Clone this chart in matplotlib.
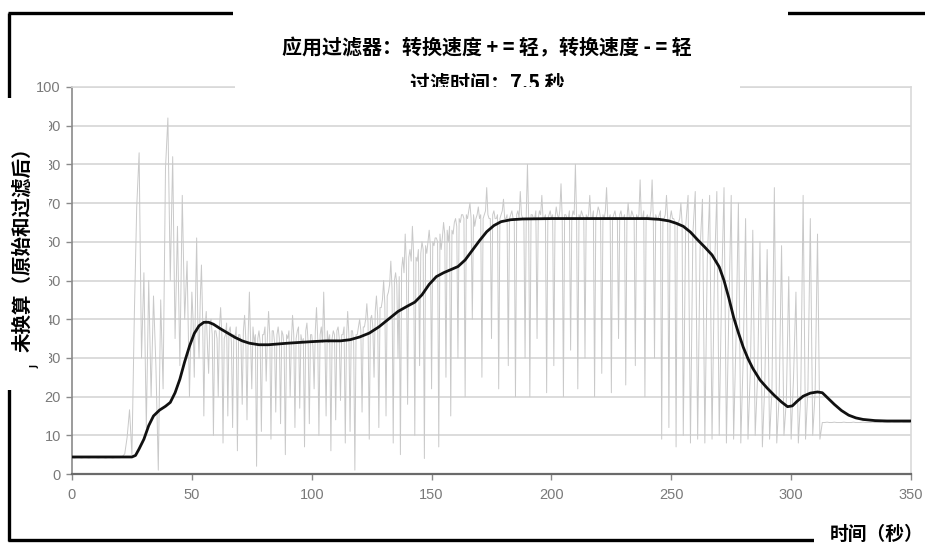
import numpy as np
import matplotlib
matplotlib.use("Agg")
import matplotlib.pyplot as plt
from matplotlib.patches import Rectangle
from matplotlib.lines import Line2D
from matplotlib.transforms import Bbox, TransformedBbox

W, H = 925, 547
CJK = ["Noto Sans CJK SC", "DejaVu Sans"]

title_text = "应用过滤器：转换速度 + = 轻，转换速度 - = 轻"
subtitle_text = "过滤时间：7.5 秒"
ylabel_text = "未换算（原始和过滤后）"
xlabel_text = "时间（秒）"

x_ticks = [0, 50, 100, 150, 200, 250, 300, 350]
y_ticks = [0, 10, 20, 30, 40, 50, 60, 70, 80, 90, 100]

# raw signal, 0-49 s, one sample per second
raw_000 = [4.2, 4.1, 4.2, 4.2, 4.1, 4.2, 4.2, 4.1, 4.2, 4.2]
raw_010 = [4.2, 4.1, 4.2, 4.2, 4.1, 4.2, 4.2, 4.1, 4.2, 4.2]
raw_020 = [4.2, 4.5, 5.2, 9.5, 16.6, 5.0, 41, 69, 83, 30]
raw_030 = [52, 12, 50, 20, 46, 28, 1, 45, 22, 79]
raw_040 = [92, 50, 82, 35, 64, 28, 72, 40, 55, 20]

# raw signal, 50-254.5 s, two samples per second
raw_050 = [47, 40, 25, 44, 61, 38, 30, 45, 54, 40, 15, 38, 42, 33, 26, 39, 40, 36, 10, 37]
raw_060 = [37, 35, 20, 38, 43, 36, 8, 35, 36, 39, 15, 37, 38, 34, 12, 36, 35, 38, 6, 36]
raw_070 = [36, 34, 18, 37, 41, 35, 14, 36, 47, 35, 22, 38, 34, 36, 2, 35, 37, 34, 11, 36]
raw_080 = [36, 38, 24, 35, 42, 36, 9, 37, 37, 34, 16, 36, 38, 35, 13, 37, 36, 33, 5, 36]
raw_090 = [35, 37, 20, 34, 41, 36, 12, 35, 37, 38, 17, 36, 34, 35, 7, 37, 39, 34, 13, 36]
raw_100 = [36, 33, 22, 37, 43, 35, 10, 36, 38, 34, 47, 35, 15, 37, 34, 36, 6, 35, 37, 36]
raw_110 = [14, 37, 38, 35, 19, 36, 36, 38, 8, 35, 42, 36, 11, 37, 37, 34, 1, 36, 36, 38]
raw_120 = [40, 37, 16, 38, 38, 40, 44, 39, 9, 40, 41, 38, 25, 42, 46, 41, 12, 43, 43, 45]
raw_130 = [50, 44, 15, 46, 47, 49, 55, 48, 8, 50, 52, 49, 30, 51, 5, 53, 56, 52, 62, 54]
raw_140 = [18, 56, 58, 55, 64, 57, 10, 56, 55, 58, 28, 57, 60, 58, 4, 59, 57, 60, 63, 59]
raw_150 = [22, 60, 59, 61, 61, 60, 7, 62, 58, 61, 65, 62, 25, 63, 60, 64, 15, 63, 62, 65]
raw_160 = [66, 64, 30, 66, 65, 67, 67, 66, 20, 67, 66, 68, 70, 66, 40, 67, 64, 66, 67, 69]
raw_170 = [66, 67, 25, 66, 67, 68, 74, 67, 66, 66, 35, 67, 68, 66, 66, 67, 22, 66, 67, 68]
raw_180 = [71, 66, 66, 67, 28, 66, 67, 68, 66, 66, 20, 67, 68, 66, 73, 67, 66, 66, 30, 67]
raw_190 = [80, 66, 20, 67, 67, 66, 66, 68, 35, 66, 68, 67, 72, 66, 66, 67, 21, 66, 67, 68]
raw_200 = [66, 67, 28, 66, 69, 67, 66, 68, 75, 66, 20, 67, 67, 66, 66, 68, 32, 66, 68, 67]
raw_210 = [80, 66, 22, 67, 66, 68, 67, 66, 30, 67, 66, 67, 72, 66, 66, 68, 20, 66, 67, 69]
raw_220 = [68, 66, 26, 67, 66, 68, 74, 66, 66, 67, 21, 66, 67, 68, 66, 66, 35, 67, 68, 66]
raw_230 = [66, 67, 23, 66, 70, 66, 66, 68, 67, 66, 28, 67, 66, 67, 76, 66, 66, 68, 20, 66]
raw_240 = [67, 66, 66, 68, 76, 66, 30, 67, 66, 66, 67, 68, 9, 66, 66, 67, 72, 66, 12, 66]
raw_250 = [68, 66, 66, 65, 7, 65, 65, 66, 70, 65]

# raw signal, 255-350 s, one sample per second
raw_255 = [10, 64, 72, 8, 62]
raw_260 = [73, 9, 58, 71, 8, 55, 72, 9, 52, 73]
raw_270 = [10, 48, 74, 8, 42, 72, 9, 35, 70, 8]
raw_280 = [30, 66, 9, 27, 63, 10, 25, 60, 7, 23]
raw_290 = [58, 9, 22, 74, 8, 20, 59, 10, 19, 51]
raw_300 = [9, 25, 47, 8, 20, 72, 9, 22, 66, 10]
raw_310 = [21, 62, 9, 13.3, 13.3, 13.4, 13.3, 13.3, 13.4, 13.3]
raw_320 = [13.3, 13.3, 13.4, 13.3, 13.3, 13.3, 13.4, 13.3, 13.3, 13.3]
raw_330 = [13.4, 13.3, 13.3, 13.3, 13.4, 13.3, 13.3, 13.3, 13.4, 13.3]
raw_340 = [13.3, 13.3, 13.4, 13.3, 13.3, 13.3, 13.4, 13.3, 13.3, 13.3, 13.3]

raw_part_a = raw_000 + raw_010 + raw_020 + raw_030 + raw_040
raw_part_b = (raw_050 + raw_060 + raw_070 + raw_080 + raw_090 + raw_100
              + raw_110 + raw_120 + raw_130 + raw_140 + raw_150 + raw_160
              + raw_170 + raw_180 + raw_190 + raw_200 + raw_210 + raw_220
              + raw_230 + raw_240 + raw_250)
raw_part_c = (raw_255 + raw_260 + raw_270 + raw_280 + raw_290 + raw_300
              + raw_310 + raw_320 + raw_330 + raw_340)

raw_t = np.concatenate([
    0 + 1.0 * np.arange(len(raw_part_a)),
    50 + 0.5 * np.arange(len(raw_part_b)),
    255 + 1.0 * np.arange(len(raw_part_c)),
])
raw_v = raw_part_a + raw_part_b + raw_part_c

# filtered signal
filt_t = [0, 20, 25, 26.5, 28, 30, 32, 34, 36.5, 39, 41, 43, 45, 47, 49, 51,
          53, 55, 57, 59, 62, 65, 68, 71, 74, 78, 82, 86, 90, 95, 100, 106,
          112, 116, 120, 124, 128, 132, 136, 140, 143, 146, 149, 152, 155,
          158, 161, 164, 167, 170, 173, 176, 179, 183, 188, 200, 220, 240,
          245, 249, 252, 255, 258, 261, 264, 267, 270, 272, 274, 276, 278,
          280, 282, 284, 287, 290, 293, 296, 298.5, 300.5, 302.5, 305, 308,
          311, 313, 315, 318, 321, 324, 327, 330, 335, 340, 350]
filt_v = [4.4, 4.4, 4.4, 4.8, 6.5, 9.0, 12.5, 15.0, 16.5, 17.5, 18.5, 21.0,
          24.5, 29.0, 33.0, 36.3, 38.3, 39.2, 39.2, 38.7, 37.5, 36.4, 35.3,
          34.4, 33.8, 33.4, 33.4, 33.6, 33.8, 34.0, 34.2, 34.4, 34.4, 34.7,
          35.4, 36.4, 38.0, 40.0, 42.0, 43.4, 44.4, 46.3, 49.0, 51.0, 52.0,
          52.8, 53.6, 55.3, 57.8, 60.3, 62.6, 64.2, 65.2, 65.7, 65.9, 66.0,
          66.0, 66.0, 65.8, 65.4, 64.8, 64.0, 62.5, 60.5, 58.6, 56.6, 53.5,
          50.0, 45.5, 40.5, 36.5, 32.8, 29.8, 27.3, 24.3, 22.2, 20.3, 18.6,
          17.4, 17.6, 18.8, 20.1, 20.9, 21.2, 21.0, 19.8, 18.0, 16.4, 15.2,
          14.5, 14.1, 13.8, 13.7, 13.7]


def fx(x):
    return x / W


def fy(y):
    return 1 - y / H


fig = plt.figure(figsize=(W / 100, H / 100), dpi=100)
fig.patch.set_facecolor("white")

ax = fig.add_axes([fx(72), fy(474), (911 - 72) / W, (474 - 87) / H])
ax.plot(raw_t, raw_v, color="#c9c9c9", lw=0.7, zorder=2)
ax.plot(filt_t, filt_v, color="#111111", lw=2.0, zorder=3,
        solid_joinstyle="round", solid_capstyle="round")

ax.set_xlim(0, 350)
ax.set_ylim(0, 100)
ax.set_xticks(x_ticks)
ax.set_yticks(y_ticks)
ax.yaxis.grid(True, color="#d9d9d9", lw=1.3)
ax.set_axisbelow(True)
for side in ("top", "right"):
    ax.spines[side].set_color("#d9d9d9")
    ax.spines[side].set_linewidth(1.2)
ax.spines["left"].set_color("#8a8a8a")
ax.spines["left"].set_linewidth(1.2)
ax.spines["bottom"].set_color("#6a6a6a")
ax.spines["bottom"].set_linewidth(1.6)
ax.tick_params(axis="both", direction="out", length=4, width=1,
               color="#8a8a8a", labelcolor="#7a7a7a", labelsize=10.5)
ax.tick_params(axis="y", pad=4)
ax.tick_params(axis="x", pad=6)
for lab in ax.get_xticklabels() + ax.get_yticklabels():
    lab.set_family("Liberation Sans")

# black frame
frame_kw = dict(color="black", lw=2.4, transform=fig.transFigure, zorder=5,
                solid_capstyle="butt")
fig.add_artist(Line2D([fx(9), fx(9)], [fy(12.5), fy(540.5)], **frame_kw))
fig.add_artist(Line2D([fx(8), fx(925)], [fy(13), fy(13)], **frame_kw))
fig.add_artist(Line2D([fx(8), fx(814)], [fy(540), fy(540)], **frame_kw))


def white_box(x0, y0, x1, y1, z=6):
    fig.add_artist(Rectangle((fx(x0), fy(y1)), (x1 - x0) / W, (y1 - y0) / H,
                             transform=fig.transFigure, facecolor="white",
                             edgecolor="none", zorder=z))


white_box(233, 0, 788, 62)
white_box(235, 55, 740, 92)
white_box(0, 98, 49, 390)
white_box(814, 520, 925, 547)

fig.text(fx(487), fy(48), title_text, ha="center", va="center",
         fontsize=14.4, weight="bold", family=CJK, zorder=7)
sub = fig.text(fx(487), fy(83), subtitle_text, ha="center", va="center",
               fontsize=14.4, weight="bold", family=CJK, zorder=7)
sub.set_clip_box(TransformedBbox(Bbox.from_extents(0, fy(87), 1, 1),
                                 fig.transFigure))
sub.set_clip_on(True)
# strip below the subtitle, hiding its lower part and the top gridline
white_box(236, 87, 740, 92, z=8)

fig.text(fx(22), fy(245), ylabel_text, ha="center", va="center",
         rotation=90, fontsize=14, weight="bold", family=CJK, zorder=7)
fig.text(fx(35), fy(366), "J", ha="center", va="center", rotation=90,
         fontsize=6, weight="bold", zorder=7)
fig.text(fx(877), fy(534), xlabel_text, ha="center", va="center",
         fontsize=13.5, weight="bold", family=CJK, zorder=7)

fig.savefig("out.png", dpi=100, facecolor="white")
